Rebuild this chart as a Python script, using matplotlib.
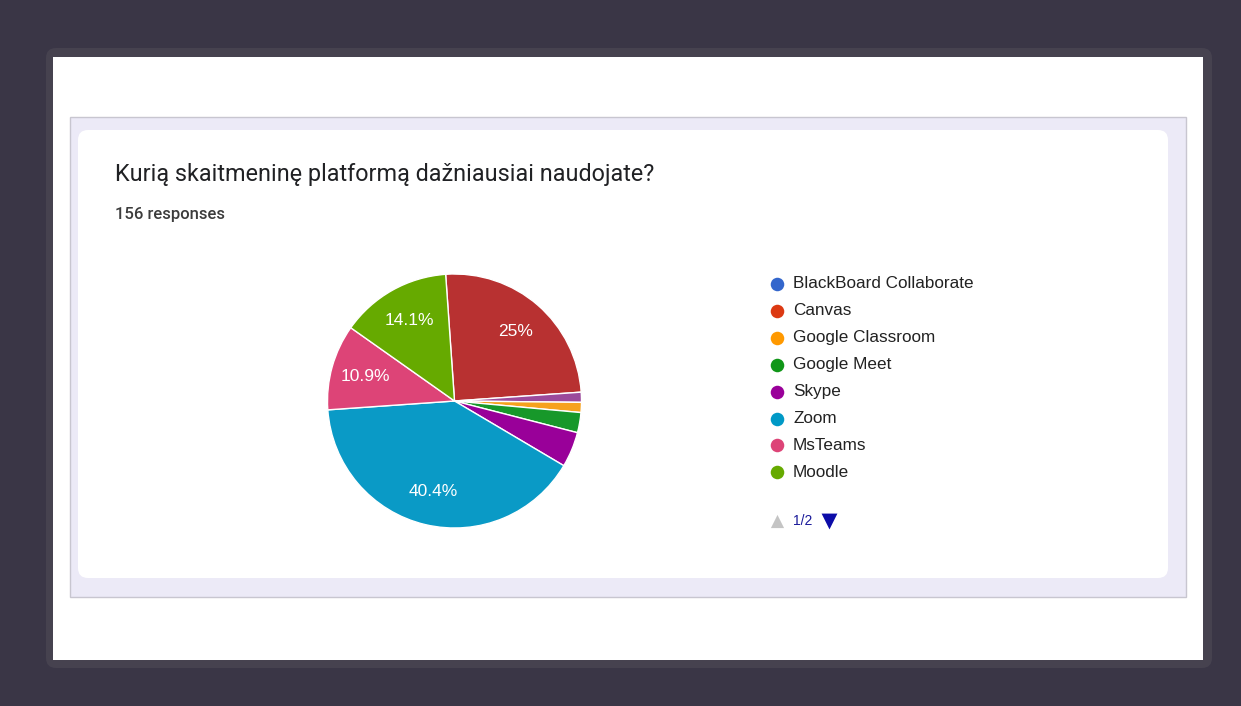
import matplotlib
matplotlib.use("Agg")
import matplotlib.pyplot as plt
from matplotlib.patches import FancyBboxPatch, Rectangle

# ---- data ----
title = "Kurią skaitmeninę platformą dažniausiai naudojate?"
subtitle = "156 responses"

legend_labels = ["BlackBoard Collaborate", "Canvas", "Google Classroom", "Google Meet",
                 "Skype", "Zoom", "MsTeams", "Moodle"]
legend_colors = ["#3366cc", "#dc3912", "#ff9900", "#109618",
                 "#990099", "#0099c6", "#dd4477", "#66aa00"]

# slices clockwise from the top, as drawn
slice_labels = ["Canvas", "Kita", "Google Classroom", "Google Meet",
                "Skype", "Zoom", "MsTeams", "Moodle"]
slice_values = [39, 2, 2, 4, 7, 63, 17, 22]
slice_colors = ["#b83131", "#9b4a9b", "#f6a21e", "#17982a",
                "#990099", "#0a9ac6", "#dd4477", "#66aa00"]
page_text = "1/2"

W, H = 1241, 706
fig = plt.figure(figsize=(W / 100, H / 100), dpi=100)
fig.patch.set_facecolor("#3a3646")

bg = fig.add_axes([0, 0, 1, 1])
bg.set_xlim(0, W)
bg.set_ylim(H, 0)
bg.axis("off")

# frame around white panel
bg.add_patch(FancyBboxPatch((46, 48), 1166, 620, boxstyle="round,pad=0,rounding_size=10",
                            fc="#46424f", ec="none"))
bg.add_patch(Rectangle((53, 57), 1150, 603, fc="white", ec="none"))
# lavender card
bg.add_patch(Rectangle((70, 117), 1116, 480, fc="#eceaf7", ec="#c8c6d0", lw=1))
bg.add_patch(FancyBboxPatch((78, 130), 1090, 448, boxstyle="round,pad=0,rounding_size=10",
                            fc="white", ec="none"))

bg.text(115, 175, title, fontsize=16.8, family="Roboto", color="#202124",
        ha="left", va="center")
bg.text(115, 214, subtitle, fontsize=12, family="Roboto", color="#3c3c3c",
        ha="left", va="center", fontweight="medium")

# legend
y0, dy = 284, 26.9
for i, (lab, col) in enumerate(zip(legend_labels, legend_colors)):
    y = y0 + i * dy
    bg.scatter([777], [y], s=95, color=col, zorder=3, linewidths=0)
    bg.text(793, y, lab, fontsize=12.3, family="Liberation Sans", color="#222222",
            ha="left", va="center")

# pagination
bg.scatter([777], [521], marker="^", s=90, color="#c4c4c4", linewidths=0)
bg.text(793, 521, page_text, fontsize=10, family="Liberation Sans", color="#1a1a9a",
        ha="left", va="center")
bg.scatter([829], [521], marker="v", s=130, color="#0c0ca8", linewidths=0)

# pie
cx, cy, R = 454.5, 401, 127
ax = fig.add_axes([(cx - R) / W, (H - cy - R) / H, 2 * R / W, 2 * R / H])


def fmt(p):
    if p < 5:
        return ""
    s = f"{p:.1f}"
    if s.endswith(".0"):
        s = s[:-2]
    return s + "%"


wedges, texts, autotexts = ax.pie(slice_values, colors=slice_colors, startangle=94,
                                  counterclock=False, autopct=fmt, pctdistance=0.73,
                                  wedgeprops=dict(edgecolor="white", linewidth=1),
                                  textprops=dict(color="white", fontsize=12.5,
                                                 family="Liberation Sans"))
ax.set_xlim(-1, 1)
ax.set_ylim(-1, 1)
ax.set_aspect("auto")
ax.axis("off")

fig.savefig("out.png", dpi=100, facecolor=fig.get_facecolor())
